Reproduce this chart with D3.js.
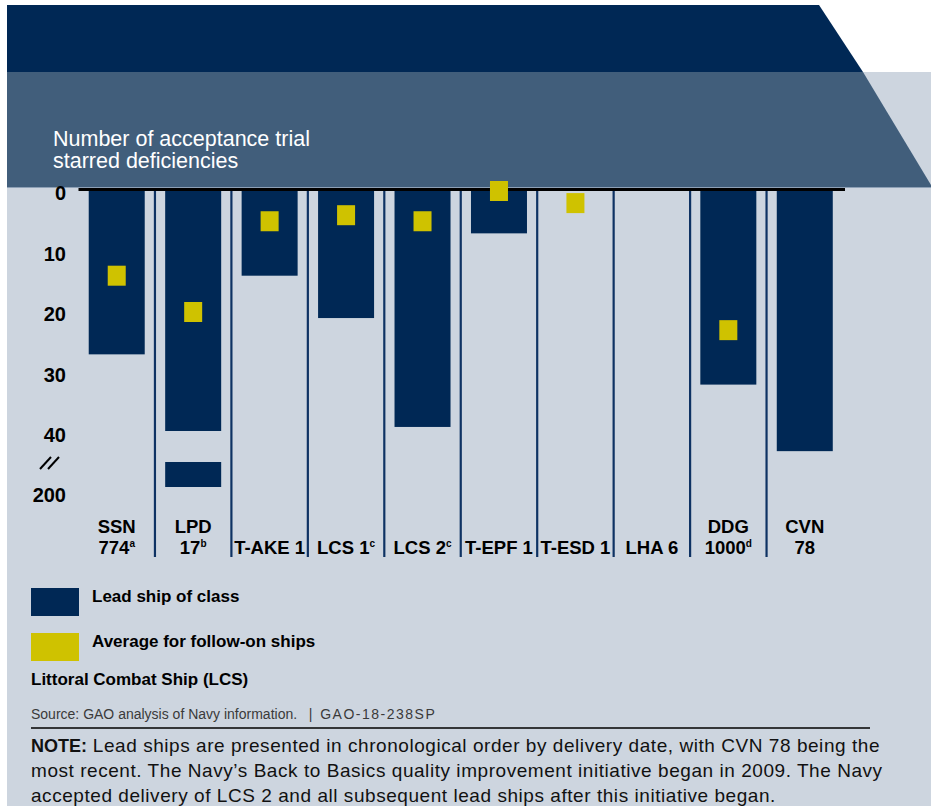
<!DOCTYPE html>
<html>
<head>
<meta charset="utf-8">
<script src="https://cdn.jsdelivr.net/npm/d3@7"></script>
<style>
  body { margin: 0; background: #ffffff; }
  svg { display: block; font-family: Arial, "Liberation Sans", sans-serif; }
</style>
</head>
<body>
<div id="chart"></div>
<script>
// ship labels, split on two lines, with footnote letters
var labelTop = ["SSN", "LPD", "", "", "", "", "", "", "DDG", "CVN"];
var labelBottom = ["774", "17", "T-AKE 1", "LCS 1", "LCS 2", "T-EPF 1", "T-ESD 1", "LHA 6", "1000", "78"];
var footnotes = ["a", "b", "", "c", "c", "", "", "", "d", ""];

// starred deficiencies
var leadShip = [27, 199, 14, 21, 39, 7, 0, 0, 32, 43];
var followOn = [14, 20, 5, 4, 5, 0, 2, null, 23, null];

// y axis ticks, main scale and the part after the break
var ticks = [0, 10, 20, 30, 40];
var ticksAfterBreak = [200];

var navy = "#002855", slate = "#415e7b", paper = "#cdd5df", yellow = "#cfc200";

var svg = d3.select("#chart").append("svg")
    .attr("width", 931)
    .attr("height", 806);

// background panels
svg.append("rect")
    .attr("x", 7).attr("y", 72)
    .attr("width", 924).attr("height", 734)
    .style("fill", paper);

svg.append("polygon")
    .attr("points", "7,5 819,5 863,72 7,72")
    .style("fill", navy);

svg.append("polygon")
    .attr("points", "7,72 863,72 931,185 931,187 7,187")
    .style("fill", slate);

svg.append("line")
    .attr("x1", 7).attr("x2", 931)
    .attr("y1", 187.5).attr("y2", 187.5)
    .style("stroke", "#8da0b6")
    .style("stroke-width", 1);

// y axis title
svg.selectAll("title_text")
    .data(["Number of acceptance trial", "starred deficiencies"])
    .enter()
    .append("text")
    .attr("x", 53)
    .attr("y", function (d, i) { return 146 + i * 22; })
    .style("font-size", "21.5px")
    .style("fill", "#ffffff")
    .text(function (d) { return d; });

// scales
var x = d3.scaleBand()
    .domain(labelBottom)
    .range([78.5, 843])
    .paddingInner(0);

var barWidth = 56;
var breakAt = 40;
var y = d3.scaleLinear().domain([0, breakAt]).range([191, 433]);
var y2 = d3.scaleLinear().domain([195, 200]).range([463, 493]);

function cx(i) { return x(labelBottom[i]) + x.bandwidth() / 2; }

// separators between ships
svg.selectAll("line.sep")
    .data(labelBottom.slice(1))
    .enter()
    .append("line")
    .attr("class", "sep")
    .attr("x1", function (d) { return x(d); })
    .attr("x2", function (d) { return x(d); })
    .attr("y1", 188)
    .attr("y2", 557)
    .style("stroke", "#0e3263")
    .style("stroke-width", 2.2);

// zero line
svg.append("line")
    .attr("x1", x.range()[0]).attr("x2", x.range()[1] + 2)
    .attr("y1", 189.5).attr("y2", 189.5)
    .style("stroke", "#000000")
    .style("stroke-width", 3);

// y tick labels
svg.selectAll("text.tick")
    .data(ticks)
    .enter()
    .append("text")
    .attr("class", "tick")
    .attr("x", 66)
    .attr("y", function (d) { return y(d) + 9; })
    .style("text-anchor", "end")
    .style("font-size", "20px")
    .style("font-weight", "bold")
    .text(function (d) { return d; });

svg.selectAll("text.tick2")
    .data(ticksAfterBreak)
    .enter()
    .append("text")
    .attr("class", "tick2")
    .attr("x", 66)
    .attr("y", function (d) { return y2(d) + 9; })
    .style("text-anchor", "end")
    .style("font-size", "20px")
    .style("font-weight", "bold")
    .text(function (d) { return d; });

// axis break mark
svg.selectAll("line.brk")
    .data([0, 8])
    .enter()
    .append("line")
    .attr("x1", function (d) { return 40 + d; })
    .attr("y1", 469)
    .attr("x2", function (d) { return 51 + d; })
    .attr("y2", 457)
    .style("stroke", "#000000")
    .style("stroke-width", 2);

// lead ship bars (with the broken one split into two pieces)
leadShip.forEach(function (v, i) {
  if (v <= 0) return;
  var bx = cx(i) - barWidth / 2;
  if (v > y2.domain()[0]) {
    svg.append("rect")
        .attr("x", bx).attr("y", y(0))
        .attr("width", barWidth).attr("height", y(breakAt) - y(0) - 2)
        .style("fill", navy);
    svg.append("rect")
        .attr("x", bx).attr("y", y2(y2.domain()[0]) - 1)
        .attr("width", barWidth).attr("height", y2(v) - y2(y2.domain()[0]) + 1)
        .style("fill", navy);
  } else {
    svg.append("rect")
        .attr("x", bx).attr("y", y(0))
        .attr("width", barWidth).attr("height", y(v) - y(0))
        .style("fill", navy);
  }
});

// follow-on averages
svg.selectAll("rect.avg")
    .data(followOn.map(function (v, i) { return { v: v, i: i }; })
                  .filter(function (d) { return d.v !== null; }))
    .enter()
    .append("rect")
    .attr("class", "avg")
    .attr("x", function (d) { return cx(d.i) - 9; })
    .attr("y", function (d) { return y(d.v) - 10; })
    .attr("width", 18)
    .attr("height", 20)
    .style("fill", yellow);

// ship labels
labelBottom.forEach(function (d, i) {
  if (labelTop[i]) {
    svg.append("text")
        .attr("x", cx(i)).attr("y", 533)
        .style("text-anchor", "middle")
        .style("font-size", "18.5px")
        .style("font-weight", "bold")
        .text(labelTop[i]);
  }
  var t = svg.append("text")
      .attr("x", cx(i)).attr("y", 554)
      .style("text-anchor", "middle")
      .style("font-size", "18.5px")
      .style("font-weight", "bold");
  t.append("tspan").text(d);
  if (footnotes[i]) {
    t.append("tspan")
        .attr("dy", -7)
        .style("font-size", "10px")
        .text(footnotes[i]);
  }
});

// legend
var legend = [["Lead ship of class", navy], ["Average for follow-on ships", yellow]];
legend.forEach(function (d, i) {
  svg.append("rect")
      .attr("x", 31).attr("y", 588 + i * 45)
      .attr("width", 48).attr("height", 28)
      .style("fill", d[1]);
  svg.append("text")
      .attr("x", 92).attr("y", 602 + i * 45)
      .style("font-size", "17px")
      .style("font-weight", "bold")
      .text(d[0]);
});

svg.append("text")
    .attr("x", 31).attr("y", 685)
    .style("font-size", "17px")
    .style("font-weight", "bold")
    .text("Littoral Combat Ship (LCS)");

// source and note
var src = svg.append("text")
    .attr("x", 31).attr("y", 719)
    .style("font-size", "14px")
    .style("fill", "#3a3a3a");
src.append("tspan").text("Source: GAO analysis of Navy information.\u00a0\u00a0\u00a0|\u00a0\u00a0");
src.append("tspan").style("letter-spacing", "1.5px").text("GAO-18-238SP");

svg.append("line")
    .attr("x1", 31).attr("x2", 870)
    .attr("y1", 728).attr("y2", 728)
    .style("stroke", "#000000")
    .style("stroke-width", 1.5);

var note = [
  "Lead ships are presented in chronological order by delivery date, with CVN 78 being the",
  "most recent. The Navy\u2019s Back to Basics quality improvement initiative began in 2009. The Navy",
  "accepted delivery of LCS 2 and all subsequent lead ships after this initiative began."
];
note.forEach(function (d, i) {
  var t = svg.append("text")
      .attr("x", 31).attr("y", 752 + i * 25)
      .style("font-size", "19px")
      .style("fill", "#111111");
  if (i === 0) {
    t.append("tspan").style("font-weight", "bold").style("font-size", "18px").text("NOTE:");
    t.append("tspan").style("letter-spacing", "0.55px").text(" " + d);
  } else {
    t.append("tspan").style("letter-spacing", "0.55px").text(d);
  }
});
</script>
</body>
</html>
